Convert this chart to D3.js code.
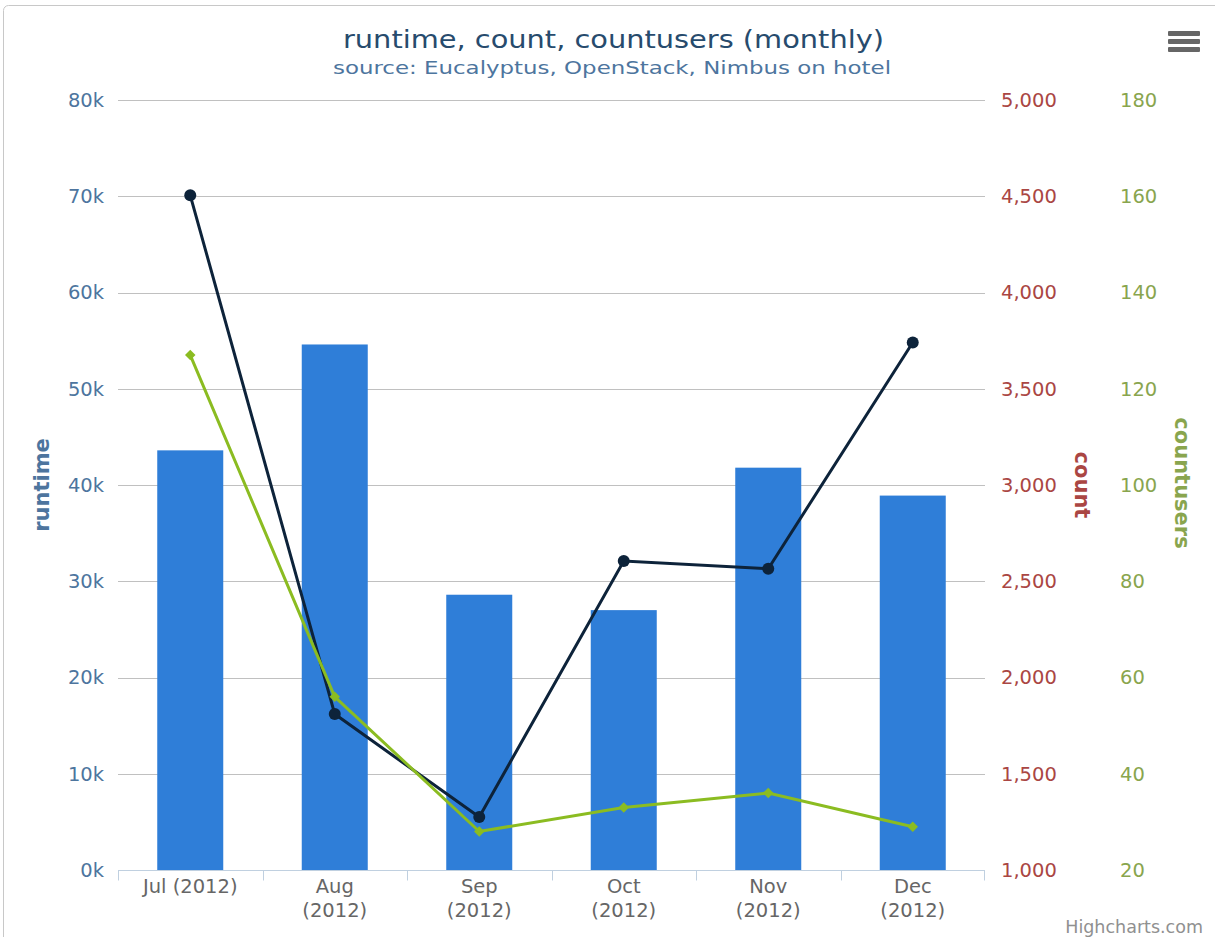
<!DOCTYPE html>
<html>
<head>
<meta charset="utf-8">
<script src="https://cdn.jsdelivr.net/npm/d3@7"></script>
<style>
  body { margin: 0; background: #fff; }
  svg text { font-family: "DejaVu Sans", Verdana, sans-serif; }
</style>
</head>
<body>
<div id="chart"></div>
<script>
// chart data
const months = ['Jul (2012)', 'Aug (2012)', 'Sep (2012)', 'Oct (2012)', 'Nov (2012)', 'Dec (2012)'];
const runtime = [43600, 54600, 28600, 27000, 41800, 38900];
const count = [4505, 1810, 1275, 2605, 2565, 3740];
const countusers = [127, 56, 28, 33, 36, 29];

const runtimeTicks = [0, 10000, 20000, 30000, 40000, 50000, 60000, 70000, 80000];
const countTicks = [1000, 1500, 2000, 2500, 3000, 3500, 4000, 4500, 5000];
const usersTicks = [20, 40, 60, 80, 100, 120, 140, 160, 180];

const width = 1215;
const height = 937;
const plot = { left: 118, right: 985, top: 100, bottom: 870 };

const svg = d3.select('#chart')
  .append('svg')
  .attr('width', width)
  .attr('height', height);

// outer frame
svg.append('rect')
  .attr('x', 3.5)
  .attr('y', 5.5)
  .attr('width', 1230)
  .attr('height', 960)
  .attr('rx', 5)
  .attr('fill', '#fff')
  .attr('stroke', '#c8c8c8');

// scales
const x = d3.scaleBand()
  .domain(months)
  .range([plot.left, plot.right]);

const yRuntime = d3.scaleLinear().domain([0, 80000]).range([plot.bottom, plot.top]);
const yCount = d3.scaleLinear().domain([1000, 5000]).range([plot.bottom, plot.top]);
const yUsers = d3.scaleLinear().domain([20, 180]).range([plot.bottom, plot.top]);

// gridlines
svg.append('g')
  .selectAll('line')
  .data(runtimeTicks.slice(1))
  .enter()
  .append('line')
  .attr('x1', plot.left)
  .attr('x2', plot.right)
  .attr('y1', d => Math.round(yRuntime(d)) + 0.5)
  .attr('y2', d => Math.round(yRuntime(d)) + 0.5)
  .attr('stroke', '#c0c0c0');

// left axis (runtime)
const leftAxis = svg.append('g')
  .attr('transform', `translate(${plot.left},0)`)
  .call(d3.axisLeft(yRuntime)
    .tickValues(runtimeTicks)
    .tickSize(0)
    .tickPadding(14)
    .tickFormat(d => `${d / 1000}k`));
leftAxis.select('.domain').remove();
leftAxis.selectAll('text')
  .style('font-size', '19.5px')
  .attr('fill', '#4d759e');

// right axis (count)
const countAxis = svg.append('g')
  .attr('transform', `translate(${plot.right},0)`)
  .call(d3.axisRight(yCount)
    .tickValues(countTicks)
    .tickSize(0)
    .tickPadding(16)
    .tickFormat(d3.format(',')));
countAxis.select('.domain').remove();
countAxis.selectAll('text')
  .style('font-size', '19.5px')
  .attr('fill', '#aa4643');

// right axis (countusers)
const usersAxis = svg.append('g')
  .attr('transform', `translate(${plot.right},0)`)
  .call(d3.axisRight(yUsers)
    .tickValues(usersTicks)
    .tickSize(0)
    .tickPadding(135)
    .tickFormat(d => d));
usersAxis.select('.domain').remove();
usersAxis.selectAll('text')
  .style('font-size', '19.5px')
  .attr('fill', '#89a54e');

// bars
svg.append('g')
  .selectAll('rect')
  .data(runtime)
  .enter()
  .append('rect')
  .attr('x', (d, i) => x(months[i]) + x.bandwidth() / 2 - 33)
  .attr('width', 66)
  .attr('y', d => yRuntime(d))
  .attr('height', d => yRuntime(0) - yRuntime(d))
  .attr('fill', '#2f7ed8');

// x axis line and ticks
const xAxis = svg.append('g')
  .attr('transform', `translate(0,${plot.bottom + 0.5})`);
xAxis.append('line')
  .attr('x1', plot.left)
  .attr('x2', plot.right)
  .attr('stroke', '#c0d0e0');
xAxis.selectAll('.tick')
  .data(months.concat(['end']))
  .enter()
  .append('line')
  .attr('x1', (d, i) => i < months.length ? Math.round(x(d)) + 0.5 : plot.right - 0.5)
  .attr('x2', (d, i) => i < months.length ? Math.round(x(d)) + 0.5 : plot.right - 0.5)
  .attr('y1', 0)
  .attr('y2', 10)
  .attr('stroke', '#c0d0e0');

// x labels, wrapped like the original
const wrapped = [false, true, true, true, true, true];
const labels = xAxis.selectAll('.lbl')
  .data(months)
  .enter()
  .append('text')
  .attr('text-anchor', 'middle')
  .attr('fill', '#666')
  .style('font-size', '19.5px')
  .attr('transform', d => `translate(${x(d) + x.bandwidth() / 2},22)`);
labels.each(function(d, i) {
  const t = d3.select(this);
  if (!wrapped[i]) {
    t.append('tspan').attr('x', 0).attr('y', 0).text(d);
  } else {
    const parts = d.split(' ');
    t.append('tspan').attr('x', 0).attr('y', 0).text(parts[0]);
    t.append('tspan').attr('x', 0).attr('y', 24).text(parts[1]);
  }
});

// count line
const countLine = d3.line()
  .x((d, i) => x(months[i]) + x.bandwidth() / 2)
  .y(d => yCount(d));

svg.append('path')
  .datum(count)
  .attr('d', countLine)
  .attr('fill', 'none')
  .attr('stroke', '#0d233a')
  .attr('stroke-width', 3);

svg.append('g')
  .selectAll('circle')
  .data(count)
  .enter()
  .append('circle')
  .attr('cx', (d, i) => x(months[i]) + x.bandwidth() / 2)
  .attr('cy', d => yCount(d))
  .attr('r', 6)
  .attr('fill', '#0d233a');

// countusers line
const usersLine = d3.line()
  .x((d, i) => x(months[i]) + x.bandwidth() / 2)
  .y(d => yUsers(d));

svg.append('path')
  .datum(countusers)
  .attr('d', usersLine)
  .attr('fill', 'none')
  .attr('stroke', '#8bbc21')
  .attr('stroke-width', 3);

svg.append('g')
  .selectAll('path')
  .data(countusers)
  .enter()
  .append('path')
  .attr('d', d3.symbol().type(d3.symbolDiamond2).size(70))
  .attr('transform', (d, i) => `translate(${x(months[i]) + x.bandwidth() / 2},${yUsers(d)})`)
  .attr('fill', '#8bbc21');

// axis titles
svg.append('text')
  .attr('transform', `translate(49,${(plot.top + plot.bottom) / 2}) rotate(-90)`)
  .attr('text-anchor', 'middle')
  .style('font-size', '21px')
  .style('font-weight', 'bold')
  .attr('fill', '#4d759e')
  .text('runtime');

svg.append('text')
  .attr('transform', `translate(1075,${(plot.top + plot.bottom) / 2}) rotate(90)`)
  .attr('text-anchor', 'middle')
  .style('font-size', '21px')
  .style('font-weight', 'bold')
  .attr('fill', '#aa4643')
  .text('count');

svg.append('text')
  .attr('transform', `translate(1175,${(plot.top + plot.bottom) / 2 - 2}) rotate(90)`)
  .attr('text-anchor', 'middle')
  .style('font-size', '21px')
  .style('font-weight', 'bold')
  .attr('fill', '#89a54e')
  .text('countusers');

// title and subtitle (stretched a little to match the wider original face)
svg.append('text')
  .attr('x', 343)
  .attr('y', 48)
  .attr('textLength', 541)
  .attr('lengthAdjust', 'spacingAndGlyphs')
  .style('font-size', '25px')
  .attr('fill', '#274b6d')
  .text('runtime, count, countusers (monthly)');

svg.append('text')
  .attr('x', 333)
  .attr('y', 74)
  .attr('textLength', 558)
  .attr('lengthAdjust', 'spacingAndGlyphs')
  .style('font-size', '18.5px')
  .attr('fill', '#4d759e')
  .text('source: Eucalyptus, OpenStack, Nimbus on hotel');

// credits
svg.append('text')
  .attr('x', 1203)
  .attr('y', 933)
  .attr('text-anchor', 'end')
  .style('font-size', '17.5px')
  .attr('fill', '#909090')
  .text('Highcharts.com');

// menu button
svg.append('g')
  .selectAll('rect')
  .data([0, 1, 2])
  .enter()
  .append('rect')
  .attr('x', 1168)
  .attr('y', d => 31 + d * 8)
  .attr('width', 32)
  .attr('height', 5)
  .attr('rx', 1)
  .attr('fill', '#666');
</script>
</body>
</html>
